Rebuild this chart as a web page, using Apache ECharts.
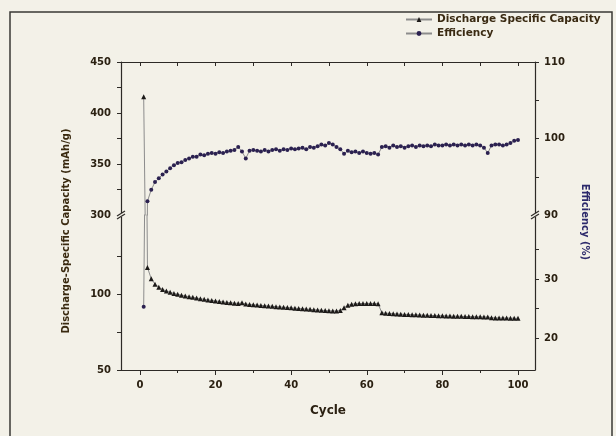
<!DOCTYPE html>
<html>
<head>
<meta charset="utf-8">
<script src="https://cdn.jsdelivr.net/npm/echarts@6/dist/echarts.min.js"></script>
<style>
html, body { margin: 0; padding: 0; background: #f3f1e8; }
#chart { width: 616px; height: 436px; }
</style>
</head>
<body>
<div id="chart"></div>
<script>
// cycle number
const cycles = [
    1, 2, 3, 4, 5, 6, 7, 8, 9, 10,
    11, 12, 13, 14, 15, 16, 17, 18, 19, 20,
    21, 22, 23, 24, 25, 26, 27, 28, 29, 30,
    31, 32, 33, 34, 35, 36, 37, 38, 39, 40,
    41, 42, 43, 44, 45, 46, 47, 48, 49, 50,
    51, 52, 53, 54, 55, 56, 57, 58, 59, 60,
    61, 62, 63, 64, 65, 66, 67, 68, 69, 70,
    71, 72, 73, 74, 75, 76, 77, 78, 79, 80,
    81, 82, 83, 84, 85, 86, 87, 88, 89, 90,
    91, 92, 93, 94, 95, 96, 97, 98, 99, 100
];
// discharge specific capacity (mAh/g)
const capacity = [
    416, 117.5, 110, 106.5, 104.5, 103, 102, 101.2, 100.4, 99.8,
    99.2, 98.7, 98.2, 97.8, 97.3, 96.9, 96.5, 96.1, 95.8, 95.4,
    95.1, 94.8, 94.5, 94.3, 94.0, 93.8, 94.2, 93.4, 93.1, 92.9,
    92.7, 92.5, 92.3, 92.1, 91.9, 91.7, 91.5, 91.3, 91.1, 90.9,
    90.7, 90.5, 90.3, 90.1, 89.9, 89.7, 89.5, 89.3, 89.1, 89.0,
    88.9, 88.8, 89.2, 91.0, 92.6, 93.3, 93.6, 93.7, 93.8, 93.8,
    93.8, 93.7, 93.6, 87.6, 87.4, 87.2, 87.0, 86.9, 86.7, 86.6,
    86.5, 86.4, 86.3, 86.2, 86.1, 86.0, 85.9, 85.8, 85.7, 85.7,
    85.6, 85.5, 85.4, 85.4, 85.3, 85.2, 85.2, 85.1, 85.0, 85.0,
    84.9, 84.9, 84.4, 84.3, 84.3, 84.2, 84.2, 84.1, 84.1, 84.0
];
// coulombic efficiency (%)
const efficiency = [
    25.3, 91.8, 93.3, 94.3, 94.8, 95.3, 95.7, 96.1, 96.5, 96.8,
    96.9, 97.2, 97.4, 97.6, 97.6, 97.9, 97.8, 98.0, 98.1, 98.0,
    98.2, 98.1, 98.3, 98.4, 98.5, 98.9, 98.3, 97.4, 98.4, 98.5,
    98.4, 98.3, 98.5, 98.3, 98.5, 98.6, 98.4, 98.6, 98.5, 98.7,
    98.6, 98.7, 98.8, 98.6, 98.9, 98.8, 99.0, 99.2, 99.1, 99.4,
    99.2, 98.9, 98.6, 98.0, 98.4, 98.2, 98.3, 98.1, 98.3, 98.1,
    98.0, 98.1, 97.9, 98.9, 99.0, 98.8, 99.1, 98.9, 99.0, 98.8,
    99.0, 99.1, 98.9, 99.1, 99.0, 99.1, 99.0, 99.2, 99.1, 99.1,
    99.2, 99.1, 99.2, 99.1, 99.2, 99.1, 99.2, 99.1, 99.2, 99.1,
    98.8, 98.1, 99.1, 99.2, 99.2, 99.1, 99.2, 99.4, 99.7, 99.8
];

const capName = 'Discharge Specific Capacity';
const effName = 'Efficiency';

// axis ticks / labels
const xLabels = [0, 20, 40, 60, 80, 100];
const xMinor = [10, 30, 50, 70, 90];
const xAllTicks = [0, 10, 20, 30, 40, 50, 60, 70, 80, 90, 100];
const capUpperLabels = [300, 350, 400, 450];
const capUpperTicks = [300, 325, 350, 375, 400, 425, 450];
const capLowerLabels = [50, 100];
const capLowerTicks = [50, 75, 100, 125];
const effUpperLabels = [90, 100, 110];
const effUpperTicks = [90, 95, 100, 105, 110];
const effLowerLabels = [20, 30];
const effLowerTicks = [20, 25, 30, 35];

const capData = cycles.map((c, i) => [c, capacity[i]]);
const effData = cycles.map((c, i) => [c, efficiency[i]]);

const bg = '#f3f1e8';
const axisColor = '#2d2a26';
const labelColor = '#2b2112';
const fontFamily = 'DejaVu Sans';

const labelStyle = {
    color: labelColor,
    fontFamily: fontFamily,
    fontWeight: 'bold',
    fontSize: 10
};

function yAxisOf(grid, pos, min, max, labels, ticks) {
    return {
        type: 'value',
        gridIndex: grid,
        position: pos,
        min: min,
        max: max,
        splitLine: { show: false },
        axisLine: { show: true, onZero: false, lineStyle: { color: axisColor, width: 1.2 } },
        axisTick: { show: true, length: 4, customValues: ticks, lineStyle: { color: axisColor } },
        axisLabel: Object.assign({ margin: pos === 'left' ? 10 : 9, customValues: labels }, labelStyle)
    };
}

const chart = echarts.init(document.getElementById('chart'));

const option = {
    backgroundColor: bg,
    animation: false,
    legend: {
        data: [capName, effName],
        orient: 'vertical',
        left: 400,
        top: 9,
        itemWidth: 26,
        itemHeight: 6,
        itemGap: 3,
        textStyle: {
            color: '#3a2a12',
            fontFamily: fontFamily,
            fontWeight: 'bold',
            fontSize: 10.5
        }
    },
    grid: [
        { left: 121, right: 81, top: 62, height: 153 },
        { left: 121, right: 81, top: 215, bottom: 66 }
    ],
    xAxis: [
        {
            type: 'value', gridIndex: 0, position: 'top', min: -5, max: 104.5,
            splitLine: { show: false },
            axisLine: { show: true, onZero: false, lineStyle: { color: axisColor, width: 1.2 } },
            axisTick: { show: true, inside: true, length: 4, customValues: xAllTicks, lineStyle: { color: axisColor } },
            axisLabel: { show: false }
        },
        {
            type: 'value', gridIndex: 1, position: 'bottom', min: -5, max: 104.5,
            splitLine: { show: false },
            axisLine: { show: true, onZero: false, lineStyle: { color: axisColor, width: 1.2 } },
            axisTick: { show: true, length: 5, customValues: xLabels, lineStyle: { color: axisColor } },
            axisLabel: Object.assign({ margin: 10, customValues: xLabels }, labelStyle),
            name: 'Cycle',
            nameLocation: 'middle',
            nameGap: 35,
            nameTextStyle: {
                color: '#2b2112',
                fontFamily: fontFamily,
                fontWeight: 'bold',
                fontSize: 12
            }
        },
        {
            type: 'value', gridIndex: 1, position: 'bottom', min: -5, max: 104.5,
            splitLine: { show: false },
            axisLine: { show: false, onZero: false },
            axisTick: { show: true, length: 3, customValues: xMinor, lineStyle: { color: axisColor } },
            axisLabel: { show: false }
        }
    ],
    yAxis: [
        yAxisOf(0, 'left', 300, 450, capUpperLabels, capUpperTicks),
        yAxisOf(0, 'right', 90, 110, effUpperLabels, effUpperTicks),
        yAxisOf(1, 'left', 50, 152, capLowerLabels, capLowerTicks),
        yAxisOf(1, 'right', 14.6, 40.85, effLowerLabels, effLowerTicks)
    ],
    series: [
        {
            name: capName, type: 'line', xAxisIndex: 0, yAxisIndex: 0,
            data: capData, clip: true,
            symbol: 'triangle', symbolSize: 5,
            itemStyle: { color: '#1c1a18' },
            lineStyle: { color: '#8c8c8c', width: 1 }
        },
        {
            name: capName, type: 'line', xAxisIndex: 1, yAxisIndex: 2,
            data: capData, clip: true,
            symbol: 'triangle', symbolSize: 5,
            itemStyle: { color: '#1c1a18' },
            lineStyle: { color: '#8c8c8c', width: 1 }
        },
        {
            name: effName, type: 'line', xAxisIndex: 0, yAxisIndex: 1,
            data: effData, clip: true,
            symbol: 'circle', symbolSize: 4,
            itemStyle: { color: '#2b2150' },
            lineStyle: { color: '#8c8c8c', width: 1 }
        },
        {
            name: effName, type: 'line', xAxisIndex: 1, yAxisIndex: 3,
            data: effData, clip: true,
            symbol: 'circle', symbolSize: 4,
            itemStyle: { color: '#2b2150' },
            lineStyle: { color: '#8c8c8c', width: 1 }
        }
    ]
};
chart.setOption(option);

// break marks on both y axes, frame and axis titles
function breakMark(p) {
    return [
        { type: 'rect', shape: { x: p[0] - 5, y: p[1] - 2, width: 10, height: 4 }, style: { fill: bg }, z: 100 },
        { type: 'line', shape: { x1: p[0] - 4, y1: p[1] + 1, x2: p[0] + 4, y2: p[1] - 4 }, style: { stroke: axisColor, lineWidth: 1.2 }, z: 101 },
        { type: 'line', shape: { x1: p[0] - 4, y1: p[1] + 4, x2: p[0] + 4, y2: p[1] - 1 }, style: { stroke: axisColor, lineWidth: 1.2 }, z: 101 }
    ];
}
const pLeft = chart.convertToPixel({ xAxisIndex: 1, yAxisIndex: 2 }, [-5, 152]);
const pRight = chart.convertToPixel({ xAxisIndex: 1, yAxisIndex: 3 }, [104.5, 40.85]);

let graphics = [
    {
        type: 'rect', shape: { x: 10, y: 12, width: 602, height: 440 },
        style: { fill: 'none', stroke: '#3a3835', lineWidth: 1.5 }, z: 0, silent: true
    },
    {
        type: 'text', x: 66, y: 231, rotation: Math.PI / 2,
        style: {
            text: 'Discharge-Specific Capacity (mAh/g)',
            align: 'center', verticalAlign: 'middle',
            font: 'bold 10px "DejaVu Sans"', fill: '#3a2a10'
        }
    },
    {
        type: 'text', x: 585, y: 222, rotation: -Math.PI / 2,
        style: {
            text: 'Efficiency (%)',
            align: 'center', verticalAlign: 'middle',
            font: 'bold 10px "DejaVu Sans"', fill: '#2d2a6b'
        }
    }
];
graphics = graphics.concat(breakMark(pLeft), breakMark(pRight));
chart.setOption({ graphic: graphics });

window.addEventListener('resize', function () {
    chart.resize();
});
</script>
</body>
</html>
